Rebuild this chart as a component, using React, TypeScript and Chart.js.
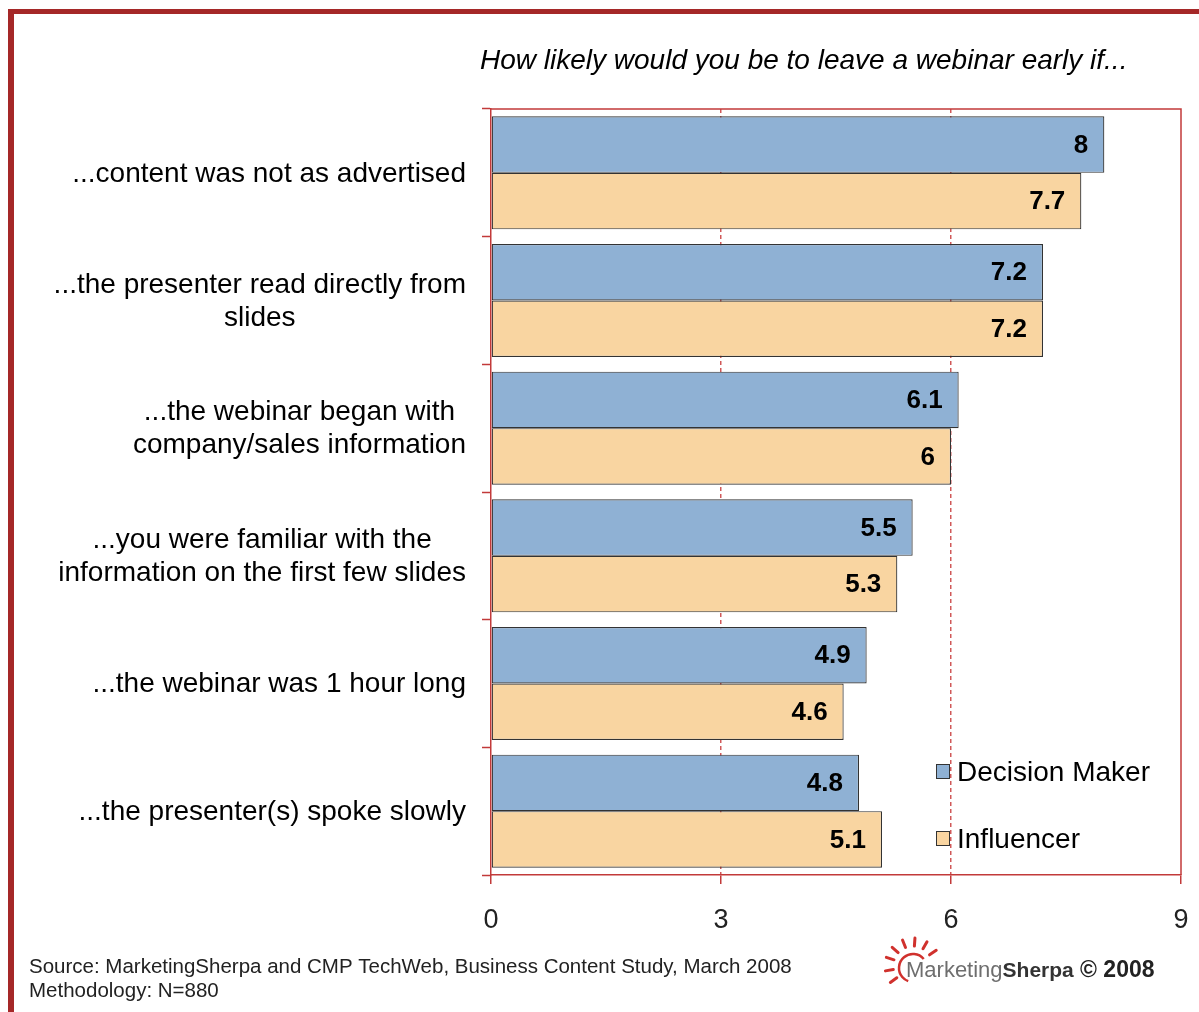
import React, { useEffect, useRef } from "react";
import { Chart, registerables } from "chart.js";

Chart.register(...registerables);

// ---- data ----
const categories = [
  "...content was not as advertised",
  "...the presenter read directly from slides",
  "...the webinar began with company/sales information",
  "...you were familiar with the information on the first few slides",
  "...the webinar was 1 hour long",
  "...the presenter(s) spoke slowly",
];
const categoryLines = [
  ["...content was not as advertised"],
  ["...the presenter read directly from", "slides"],
  ["...the webinar began with", "company/sales information"],
  ["...you were familiar with the", "information on the first few slides"],
  ["...the webinar was 1 hour long"],
  ["...the presenter(s) spoke slowly"],
];
const decisionMaker = [8, 7.2, 6.1, 5.5, 4.9, 4.8];
const influencer = [7.7, 7.2, 6, 5.3, 4.6, 5.1];
const xTickValues = [0, 3, 6, 9];
const seriesNames = ["Decision Maker", "Influencer"];
const titleText = "How likely would you be to leave a webinar early if...";
const sourceLines = [
  "Source: MarketingSherpa and CMP TechWeb, Business Content Study, March 2008",
  "Methodology: N=880",
];

// ---- styles ----
const FONT = "'Liberation Sans', Arial, sans-serif";
const BLUE = "#8fb1d4";
const ORANGE = "#f9d5a1";
const BAR_BORDER = "#333333";
const RED = "#c23a3a";
const RED_DASH = "rgba(205,80,80,0.95)";
const FRAME_RED = "#a52828";
const LINE_W = 1.5;

const decorPlugin = {
  id: "decor",
  beforeDraw(chart: any) {
    const { ctx, width, height } = chart;
    ctx.save();
    ctx.fillStyle = "#ffffff";
    ctx.fillRect(0, 0, width, height);
    ctx.restore();
  },
  afterDatasetsDraw(chart: any) {
    const { ctx } = chart;
    ctx.save();
    ctx.font = `bold 26px ${FONT}`;
    ctx.fillStyle = "#000";
    ctx.textAlign = "right";
    ctx.textBaseline = "middle";
    chart.data.datasets.forEach((ds: any, di: number) => {
      const meta = chart.getDatasetMeta(di);
      meta.data.forEach((bar: any, i: number) => {
        const p = bar.getProps(["x", "y"], true);
        ctx.fillText(String(ds.data[i]), p.x - 16, p.y + 1);
      });
    });
    ctx.restore();
  },
  afterDraw(chart: any) {
    const { ctx, chartArea: a, scales } = chart;
    ctx.save();
    // plot frame top & right
    ctx.strokeStyle = RED;
    ctx.lineWidth = LINE_W;
    ctx.beginPath();
    ctx.moveTo(a.left, Math.round(a.top));
    ctx.lineTo(Math.round(a.right), Math.round(a.top));
    ctx.lineTo(Math.round(a.right), Math.round(a.bottom));
    ctx.stroke();

    // y category labels (right-aligned blocks, centered lines)
    const y = scales.y;
    ctx.font = `28px ${FONT}`;
    ctx.fillStyle = "#000";
    ctx.textAlign = "center";
    ctx.textBaseline = "middle";
    const lh = 33;
    categoryLines.forEach((lines, i) => {
      const cy = y.getPixelForValue(i);
      const w = Math.max(...lines.map((l) => ctx.measureText(l).width));
      const cx = 466 - w / 2;
      lines.forEach((l, j) => {
        ctx.fillText(l, cx, cy - ((lines.length - 1) * lh) / 2 + j * lh + 1);
      });
    });

    // title
    ctx.font = `italic 28px ${FONT}`;
    ctx.textAlign = "left";
    ctx.fillText(titleText, 480, 61, 648);

    // legend
    const colors = [BLUE, ORANGE];
    const ly = [772, 839];
    seriesNames.forEach((name, i) => {
      ctx.fillStyle = colors[i];
      ctx.fillRect(936.5, ly[i] - 7.5, 13, 14);
      ctx.strokeStyle = BAR_BORDER;
      ctx.lineWidth = 1;
      ctx.strokeRect(936.5, ly[i] - 7.5, 13, 14);
      ctx.fillStyle = "#000";
      ctx.font = `28px ${FONT}`;
      ctx.fillText(name, 957, ly[i] + 1);
    });

    // source
    ctx.fillStyle = "#222";
    ctx.font = `20.5px ${FONT}`;
    ctx.fillText(sourceLines[0], 29, 967);
    ctx.fillText(sourceLines[1], 29, 991);

    // logo: sun
    const sx = 913, sy = 966;
    const rad = (d: number) => (d * Math.PI) / 180;
    ctx.strokeStyle = "#d0312d";
    ctx.lineWidth = 2.5;
    ctx.beginPath();
    ctx.arc(sx, sy + 2, 14, rad(-40), rad(-250), true);
    ctx.stroke();
    ctx.lineWidth = 3;
    ctx.lineCap = "round";
    [34, 60, 86, 112, 138, 162, 190, 216].forEach((d) => {
      const r1 = 20, r2 = 28;
      ctx.beginPath();
      ctx.moveTo(sx + Math.cos(rad(d)) * r1, sy - Math.sin(rad(d)) * r1);
      ctx.lineTo(sx + Math.cos(rad(d)) * r2, sy - Math.sin(rad(d)) * r2);
      ctx.stroke();
    });
    // logo text
    ctx.textBaseline = "middle";
    ctx.font = `22px ${FONT}`;
    ctx.fillStyle = "#6e6e6e";
    ctx.fillText("Marketing", 906, 971);
    const mw = ctx.measureText("Marketing").width;
    ctx.font = `bold 21px ${FONT}`;
    ctx.fillStyle = "#333";
    ctx.fillText("Sherpa", 906 + mw, 971);
    ctx.font = `bold 23px ${FONT}`;
    ctx.fillStyle = "#222";
    ctx.fillText("\u00a9 2008", 1080, 971);

    // outer red border
    ctx.fillStyle = FRAME_RED;
    ctx.fillRect(8, 9, 6, 1003);
    ctx.fillRect(8, 9, 1191, 5);
    ctx.restore();
  },
};

export default function App() {
  const ref = useRef<HTMLCanvasElement | null>(null);
  useEffect(() => {
    if (!ref.current) return;
    const chart = new Chart(ref.current, {
      type: "bar",
      data: {
        labels: categories,
        datasets: [
          {
            label: seriesNames[0],
            data: decisionMaker,
            backgroundColor: BLUE,
            borderColor: BAR_BORDER,
            borderWidth: 1.2,
            borderSkipped: false,
            barPercentage: 1,
            categoryPercentage: 0.885,
          },
          {
            label: seriesNames[1],
            data: influencer,
            backgroundColor: ORANGE,
            borderColor: BAR_BORDER,
            borderWidth: 1.2,
            borderSkipped: false,
            barPercentage: 1,
            categoryPercentage: 0.885,
          },
        ],
      },
      options: {
        indexAxis: "y",
        responsive: false,
        animation: false,
        events: [],
        layout: { padding: { top: 109, right: 18, bottom: 0, left: 0 } },
        plugins: {
          legend: { display: false },
          title: { display: false },
          tooltip: { enabled: false },
        },
        scales: {
          x: {
            min: 0,
            max: 9,
            afterBuildTicks: (s: any) => {
              s.ticks = xTickValues.map((v) => ({ value: v }));
            },
            afterFit: (s: any) => {
              s.height = 137;
              s.paddingRight = 0;
              s.paddingLeft = 0;
            },
            ticks: {
              font: { family: FONT, size: 27 },
              color: "#222",
              padding: 20,
              maxRotation: 0,
            },
            grid: {
              color: (c: any) =>
                c.tick && (c.tick.value === 3 || c.tick.value === 6)
                  ? RED_DASH
                  : "rgba(0,0,0,0)",
              tickColor: RED,
              tickLength: 9,
              tickWidth: LINE_W,
              tickBorderDash: [],
              lineWidth: 1.5,
            },
            border: { display: true, color: RED, width: LINE_W, dash: [4, 3] },
          },
          y: {
            afterFit: (s: any) => {
              s.width = 491;
            },
            ticks: { display: false },
            grid: {
              offset: true,
              drawOnChartArea: false,
              drawTicks: true,
              tickLength: 9,
              tickWidth: LINE_W,
              color: RED,
              tickColor: RED,
            },
            border: { display: true, color: RED, width: LINE_W },
          },
        },
      },
      plugins: [decorPlugin],
    } as any);
    return () => chart.destroy();
  }, []);
  return (
    <div style={{ position: "absolute", left: 0, top: 0, width: 1199, height: 1012 }}>
      <canvas ref={ref} width={1199} height={1012} style={{ display: "block" }} />
    </div>
  );
}
